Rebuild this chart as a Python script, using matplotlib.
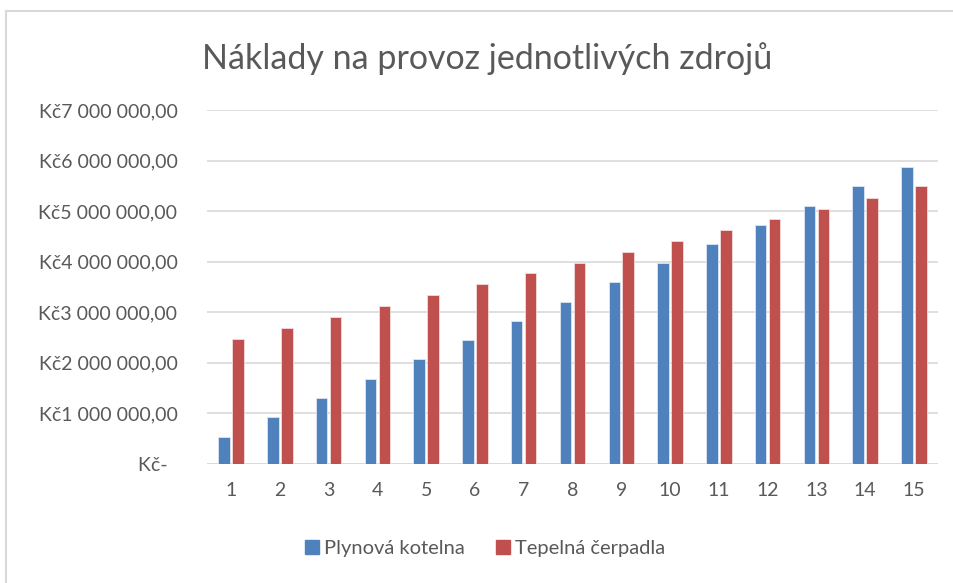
import numpy as np
import matplotlib
matplotlib.use("Agg")
import matplotlib.pyplot as plt
from matplotlib.lines import Line2D

# roky provozu
years = list(range(1, 16))
# Plynová kotelna (Kč)
gas = [540000, 920000, 1300000, 1680000, 2070000, 2450000, 2830000, 3200000,
       3590000, 3970000, 4350000, 4730000, 5110000, 5500000, 5880000]
# Tepelná čerpadla (Kč)
heat_pump = [2470000, 2690000, 2910000, 3130000, 3340000, 3550000, 3770000, 3980000,
             4190000, 4410000, 4620000, 4840000, 5050000, 5270000, 5490000]
labels = ["Plynová kotelna", "Tepelná čerpadla"]
title = "Náklady na provoz jednotlivých zdrojů"

BLUE = "#4F81BD"
RED = "#C0504D"
TXT = "#595959"

plt.rcParams['font.family'] = ['Lato', 'DejaVu Sans']

fig = plt.figure(figsize=(9.54, 5.83), dpi=100)
ax = fig.add_axes([0.2166, 0.2041, 0.767, 0.6072])

x = np.array(years)
w = 0.236
ax.bar(x - 0.143, gas, w, color=BLUE, edgecolor="#DCE6F2", linewidth=0.6, label=labels[0], zorder=3)
ax.bar(x + 0.143, heat_pump, w, color=RED, edgecolor="#F2DCDB", linewidth=0.6, label=labels[1], zorder=3)

ax.set_xlim(0.5, 15.5)
ax.set_ylim(0, 7000000)
ax.set_xticks(x)
ax.set_xticklabels([str(v) for v in years])
yt = np.arange(0, 7000001, 1000000)
ax.set_yticks(yt)


def kc(v):
    if v == 0:
        return "Kč-  "
    s = f"{int(v):,}".replace(",", " ")
    return "Kč" + s + ",00"


ax.set_yticklabels([kc(v) for v in yt])
ax.tick_params(axis='both', length=0, labelsize=14, colors=TXT)
ax.tick_params(axis='y', pad=21)
ax.tick_params(axis='x', pad=13)

ax.grid(axis='y', color="#D9D9D9", linewidth=1.2, zorder=0)
for s in ax.spines.values():
    s.set_visible(False)
ax.axhline(0, color="#D9D9D9", linewidth=1.2, zorder=1)

fig.text(0.511, 0.9, title, ha='center', va='center', fontsize=24.5, color=TXT)

handles = [Line2D([], [], marker='s', linestyle='none', markersize=9.5, color=BLUE),
           Line2D([], [], marker='s', linestyle='none', markersize=9.5, color=RED)]
fig.legend(handles, labels, loc='center', bbox_to_anchor=(0.507, 0.06), ncol=2,
           frameon=False, fontsize=14.5, labelcolor=TXT, handletextpad=0.1,
           columnspacing=1.4, handlelength=1.0)

# okraj grafu (jen nahoře a vlevo)
fig.add_artist(Line2D([6 / 954, 6 / 954], [0, 1 - 11 / 583], transform=fig.transFigure,
                      color="#D9D9D9", linewidth=1.5))
fig.add_artist(Line2D([6 / 954, 1], [1 - 11 / 583, 1 - 11 / 583], transform=fig.transFigure,
                      color="#D9D9D9", linewidth=1.5))

fig.savefig("out.png", dpi=100)
